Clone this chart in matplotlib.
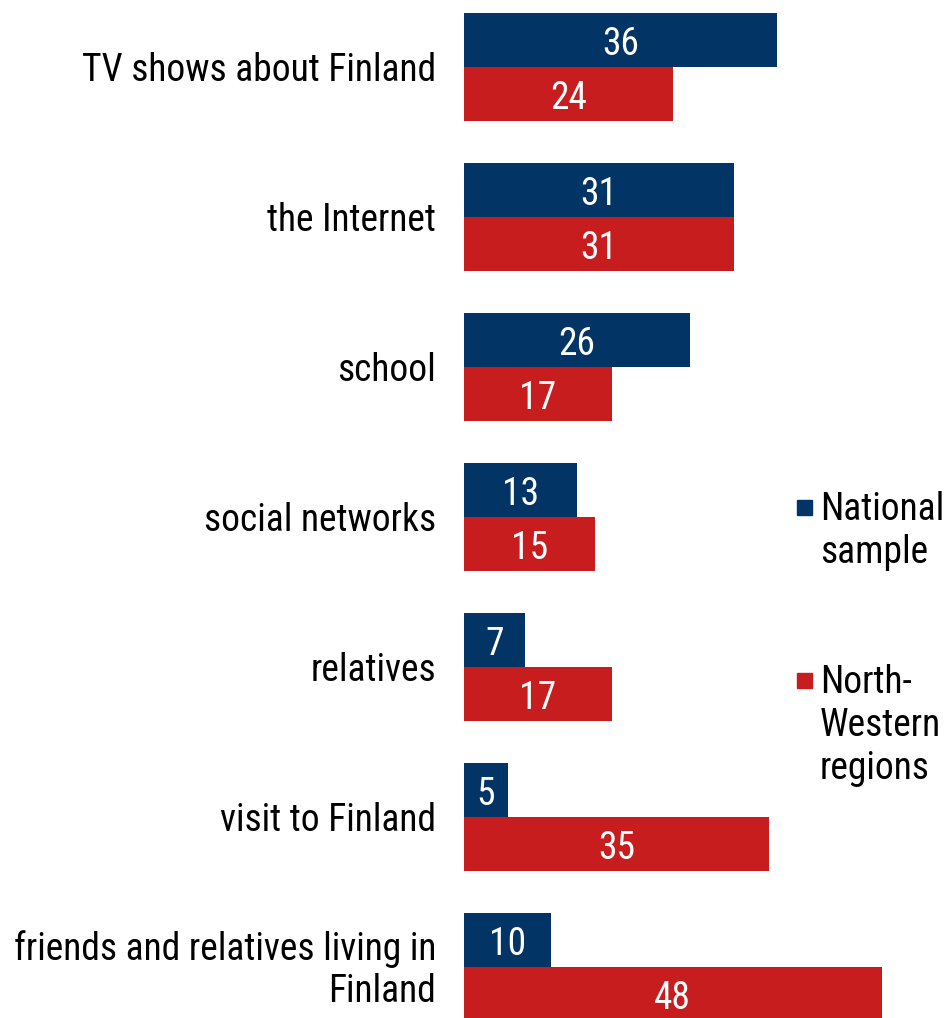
import matplotlib
matplotlib.use("Agg")
import matplotlib.pyplot as plt
from matplotlib import font_manager as fm

categories = ["TV shows about Finland", "the Internet", "school", "social networks",
              "relatives", "visit to Finland", "friends and relatives living in\nFinland"]
national = [36, 31, 26, 13, 7, 5, 10]
northwest = [24, 31, 17, 15, 17, 35, 48]
series_names = ["National\nsample", "North-\nWestern\nregions"]

names = {f.name for f in fm.fontManager.ttflist}
fam = [f for f in ["Liberation Sans Narrow", "Roboto Condensed", "Open Sans Condensed", "Roboto", "DejaVu Sans"] if f in names]
plt.rcParams['font.family'] = fam

navy = "#033466"
red = "#C81D1F"
fs = 27

fig = plt.figure(figsize=(9.46, 10.18), dpi=100)
ax = fig.add_axes([464/946, 0, 435/946, 1])
ax.set_xlim(0, 50)
ax.set_ylim(6.34, -0.447)

h = 0.36
for i, (a, b) in enumerate(zip(national, northwest)):
    ax.barh(i - h/2, a, height=h, color=navy)
    ax.barh(i + h/2, b, height=h, color=red)
    ax.text(a/2, i - h/2 + 0.03, str(a), color="white", ha="center", va="center", fontsize=fs)
    ax.text(b/2, i + h/2 + 0.03, str(b), color="white", ha="center", va="center", fontsize=fs)
    ax.text(-28/8.7, i + 0.02, categories[i], ha="right", va="center", fontsize=fs,
            linespacing=1.2)

ax.axis("off")

# legend
fig.patches.append(plt.Rectangle((797/946, 1 - 515/1018), 15/946, 15/1018,
                                 transform=fig.transFigure, color=navy))
fig.text(820/946, 1 - 491/1018, series_names[0], ha="left", va="top", fontsize=fs,
         linespacing=1.2, transform=fig.transFigure)
fig.patches.append(plt.Rectangle((797/946, 1 - 688/1018), 15/946, 15/1018,
                                 transform=fig.transFigure, color=red))
fig.text(820/946, 1 - 664/1018, series_names[1], ha="left", va="top", fontsize=fs,
         linespacing=1.2, transform=fig.transFigure)

fig.savefig("out.png", dpi=100)
